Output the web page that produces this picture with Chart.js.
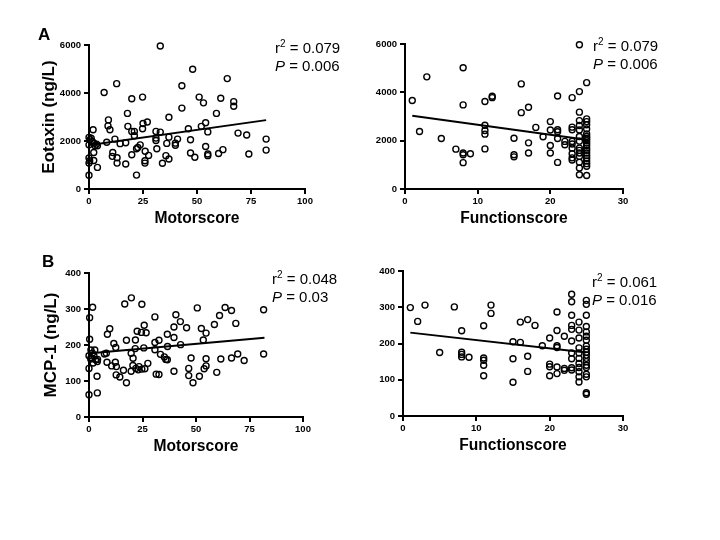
<!DOCTYPE html>
<html><head><meta charset="utf-8">
<script src="https://cdn.jsdelivr.net/npm/chart.js@4.4.0/dist/chart.umd.min.js"></script>
<style>
html,body{margin:0;padding:0;background:#fff;}
#wrap{position:relative;width:720px;height:540px;overflow:hidden;background:#fff;}
canvas{position:absolute;left:0;top:0;}
.lab{position:absolute;font-family:"Liberation Sans",Arial,sans-serif;color:#000;white-space:nowrap;}
.panel{font-weight:bold;font-size:17px;line-height:20px;}
.stat{font-size:15px;line-height:18px;}
.stat sup{font-size:10px;line-height:0;vertical-align:6px;}
</style>
</head><body>
<div id="wrap">
<canvas id="c1" width="720" height="540"></canvas>
<canvas id="c2" width="720" height="540"></canvas>
<canvas id="c3" width="720" height="540"></canvas>
<canvas id="c4" width="720" height="540"></canvas>
<div class="lab panel" style="left:38px;top:25px;">A</div>
<div class="lab panel" style="left:42px;top:252px;">B</div>
<div class="lab stat" style="left:275px;top:39px;">r<sup>2</sup> = 0.079</div>
<div class="lab stat" style="left:275px;top:57px;"><i>P</i> = 0.006</div>
<div class="lab stat" style="left:593px;top:37px;">r<sup>2</sup> = 0.079</div>
<div class="lab stat" style="left:593px;top:55px;"><i>P</i> = 0.006</div>
<div class="lab stat" style="left:272px;top:270px;">r<sup>2</sup> = 0.048</div>
<div class="lab stat" style="left:272px;top:288px;"><i>P</i> = 0.03</div>
<div class="lab stat" style="left:592px;top:273px;">r<sup>2</sup> = 0.061</div>
<div class="lab stat" style="left:592px;top:291px;"><i>P</i> = 0.016</div>
</div>
<script>
// Panel A left: Motorscore vs Eotaxin
const motorA = [33,48,64,12.8,43,7,19.8,24.8,51,53, 61,67,67,43,59,17.8,37,9,8.8,18, 27,25,24.8,54,52,46,9.7,1.9,19.8,21, 31,33,55,69,73,82,82,21,31,31, 37,41,40,40,47,36,8.2,12,14.4,17, 23.7,22,22.6,31.4,26,27.6,25.9,25.9,19.8,11, 10.8,13,13,17,22,34,35.6,37,47,49, 54,55,55,60,62,74,0,0.5,1,1.5, 2.3,0,2.8,3.9,3.5,2.2,2.2,0,0.3,0, 3.9,0];
const eotaxinA = [5960,4990,4600,4390,4300,4020,3760,3830,3830,3590, 3780,3640,3450,3370,3150,3150,2990,2880,2630,2610, 2790,2730,2510,2760,2610,2510,2470,2470,2400,2400, 2400,2370,2380,2330,2250,2080,1620,2220,2120,2020, 2160,2080,1910,1820,2050,1900,1950,2080,1890,1930, 1840,1680,1730,1680,1570,1400,1180,1080,1430,1520, 1360,1300,1080,1040,580,1070,1390,1250,1500,1320, 1770,1460,1390,1480,1640,1460,2150,2050,2120,1980, 1910,1840,1800,1800,1870,1520,1190,1290,1180,1080, 900,570];
const fitMotorA_x = [0.5, 82];
const fitMotorA_y = [1830, 2870];

// Panel A right: Functionscore vs Eotaxin
const funcA = [1,2,3,5,7,8,8,8,8,8, 9,11,11,11,11,11,12,12,15,15, 15,16,16,17,17,17,18,19,20,20, 20,20,21,21,21,21,21,22,22,
  23,23,23,23,23,23,23,23,23,
  24,24,24,24,24,24,24,24,24,24,24,24,24,24,24,
  25,25,25,25,25,25,25,25,25,25,25,25,25,25,25,25,25,25,25,25];
const eotaxinF = [3660,2380,4640,2090,1650,5020,3480,1490,1420,1090, 1460,3620,2640,2420,2270,1660,3840,3780,2100,1420, 1330,4350,3160,3380,1910,1490,2550,2160,2790,2440, 1800,1490,3850,2450,2370,2090,1100,1970,1830,
  3780,2560,2450,1970,1860,1690,1460,1290,1200,
  4030,3180,2830,2630,2440,2170,1980,1690,1600,1490,1350,1110,870,590,5970,
  4400,2900,2790,2660,2480,2280,2170,2090,2000,1900,1800,1690,1600,1490,1380,1270,1160,1050,940,560];
const fitFuncA_x = [1, 25];
const fitFuncA_y = [3030, 2040];

// Panel B left: Motorscore vs MCP-1
const motorB = [19.8,16.7,24.7,1.7,50.6,63.6,66.6,81.6,0.3,30.8, 40.6,61,42.7,68.6,58.6,25.8,45.6,39.7,52.5,9.7, 22.5,24.5,26.7,8.6,54.7,36.6,39.7,0.3,17.5,21.7, 32.7,53.4,11.6,30.8,12.5,21.6,25.6,36.7,42.8,30.8, 0.9,2.7,1.6,7.2,8.1,19.7,33.4,20.6,35.2,35.9, 36.6,47.7,54.7,61.6,66.6,69.5,72.5,81.6,0,0.8, 3.1,3.9,1.9,8.4,12.3,10.6,12.8,27.5,16.1,20.5, 21.9,23.4,24.7,26.1,19.7,23,46.6,53.8,54.7,0, 39.7,46.6,51.6,59.7,31.4,32.7,12.7,14.4,3.75,17.5, 48.6,3.9,0,2.3,1,4];
const mcpA = [331,314,313,305,303,304,296,298,276,278, 284,282,265,260,257,255,248,250,246,245, 238,235,234,230,233,230,221,216,213,214, 213,214,204,207,193,190,192,196,201,187, 186,186,177,175,177,177,174,163,167,160, 159,164,162,161,164,175,157,175,170,161, 159,154,150,152,152,142,140,149,130,143, 135,140,133,134,127,131,135,134,142,135, 127,115,113,124,119,118,117,111,113,95, 95,67,62,170,165,160];
const fitMotorB_x = [0.8, 82];
const fitMotorB_y = [177, 220];

// Panel B right: Functionscore vs MCP-1
const funcB = [1,2,3,5,7,8,8,8,8,9, 11,11,11,11,11,12,12,15,16,15, 15,16,17,18,17,17,19,20,20,20, 20,21,21,21,21,21,21,22,22,22,
  23,23,23,23,23,23,23,23,23,23,
  24,24,24,24,24,24,24,24,24,24,24,
  25,25,25,25,25,25,25,25,25,25,25,25,25,25,25,25,25,25,25];
const mcpF = [299,261,306,175,301,235,176,170,163,162, 249,160,154,140,111,306,283,205,203,158, 93,259,266,250,165,123,194,215,143,136, 111,287,236,194,189,135,117,220,131,126,
  207,158,174,133,127,250,239,336,315,278,
  259,237,215,188,174,159,145,134,122,108,94,
  319,308,278,247,232,220,209,193,184,176,168,159,150,140,134,115,108,64,60];
const fitFuncB_x = [1, 25];
const fitFuncB_y = [230, 175];

const FAM = '"Liberation Sans", Arial, Helvetica, sans-serif';
const HX = 39;

function makePanel(id, xs, ys, lx, ly, c) {
  const pts = xs.map((x, i) => ({x: x, y: ys[i]}));
  const line = lx.map((x, i) => ({x: x, y: ly[i]}));
  const tickFont = {family: FAM, size: 9.5, weight: 'bold'};
  const grid = {display: true, drawOnChartArea: false, drawTicks: true, tickLength: 5,
    tickColor: '#000', tickWidth: 2, color: '#000', lineWidth: 2};
  const plain = v => String(v);
  new Chart(document.getElementById(id), {
    type: 'scatter',
    data: {datasets: [
      {data: pts, pointRadius: 3, pointBorderWidth: 1.4, pointBorderColor: '#000',
       pointBackgroundColor: 'rgba(0,0,0,0)', borderColor: '#000', backgroundColor: 'rgba(0,0,0,0)',
       showLine: false, clip: false, order: 2},
      {type: 'line', data: line, borderColor: '#000', borderWidth: 2, pointRadius: 0,
       fill: false, clip: false, order: 1}
    ]},
    options: {
      responsive: false, animation: false, events: [],
      layout: {autoPadding: false, padding: {left: c.L - c.Wy, right: 720 - c.R, top: c.T, bottom: 540 - c.B - HX}},
      plugins: {legend: {display: false}, tooltip: {enabled: false}},
      scales: {
        x: {type: 'linear', position: 'bottom', min: 0, max: c.xmax,
          ticks: {stepSize: c.xstep, color: '#000', font: tickFont, padding: 2, maxRotation: 0, callback: plain},
          grid: grid, border: {display: true, color: '#000', width: 2},
          title: {display: true, text: c.xTitle, color: '#000', padding: 0,
            font: {family: FAM, size: 15.6, weight: 'bold'}},
          afterFit: s => { s.height = HX; s.paddingLeft = 0; s.paddingRight = 0; }
        },
        y: {type: 'linear', position: 'left', min: 0, max: c.ymax,
          ticks: {stepSize: c.ystep, color: '#000', font: tickFont, padding: 3, callback: plain},
          grid: grid, border: {display: true, color: '#000', width: 2},
          title: {display: !!c.yTitle, text: c.yTitle || '', color: '#000', padding: 0,
            font: {family: FAM, size: 17, weight: 'bold'}},
          afterFit: s => { s.width = c.Wy; s.paddingTop = 0; s.paddingBottom = 0; }
        }
      }
    }
  });
}

makePanel('c1', motorA, eotaxinA, fitMotorA_x, fitMotorA_y,
  {L: 89, R: 305, T: 45, B: 189, Wy: 50, xmax: 100, xstep: 25, ymax: 6000, ystep: 2000,
   xTitle: 'Motorscore', yTitle: 'Eotaxin (ng/L)'});
makePanel('c2', funcA, eotaxinF, fitFuncA_x, fitFuncA_y,
  {L: 405, R: 623, T: 44, B: 189, Wy: 40, xmax: 30, xstep: 10, ymax: 6000, ystep: 2000,
   xTitle: 'Functionscore'});
makePanel('c3', motorB, mcpA, fitMotorB_x, fitMotorB_y,
  {L: 89, R: 303, T: 273, B: 417, Wy: 48, xmax: 100, xstep: 25, ymax: 400, ystep: 100,
   xTitle: 'Motorscore', yTitle: 'MCP-1 (ng/L)'});
makePanel('c4', funcB, mcpF, fitFuncB_x, fitFuncB_y,
  {L: 403, R: 623, T: 271, B: 416, Wy: 40, xmax: 30, xstep: 10, ymax: 400, ystep: 100,
   xTitle: 'Functionscore'});
</script>
</body></html>
